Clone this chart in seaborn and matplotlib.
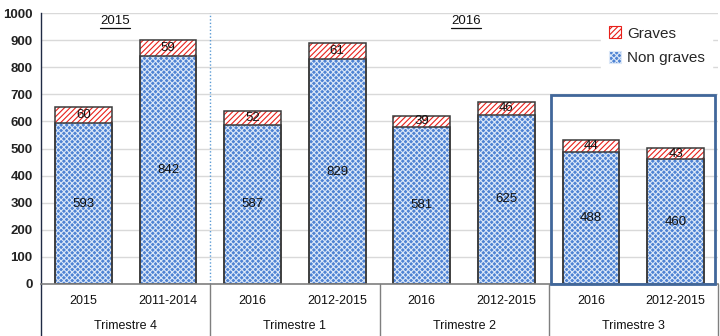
import matplotlib
matplotlib.use("Agg")
import matplotlib.pyplot as plt
import seaborn as sns
import pandas as pd
import numpy as np
from matplotlib.patches import Patch, Rectangle
from matplotlib.lines import Line2D
import matplotlib.transforms as mtrans

# ---- data ----
groups = ["Trimestre 4", "Trimestre 1", "Trimestre 2", "Trimestre 3"]
sublabels = ["2015", "2011-2014", "2016", "2012-2015", "2016", "2012-2015", "2016", "2012-2015"]
non_graves = [593, 842, 587, 829, 581, 625, 488, 460]
graves = [60, 59, 52, 61, 39, 46, 44, 43]
year_labels = ["2015", "2016"]

sns.set_theme(style="white")
plt.rcParams["font.family"] = ["Liberation Sans", "DejaVu Sans"]
plt.rcParams["hatch.linewidth"] = 0.8

keys = [f"k{i}" for i in range(len(sublabels))]
df = pd.DataFrame({"key": keys, "non": non_graves, "gr": graves})
df["total"] = df["non"] + df["gr"]

fig = plt.figure(figsize=(7.2, 3.36), dpi=100)
ax = fig.add_axes([41 / 720, 52 / 336, 677 / 720, 271 / 336])

W = 0.67
blue = "#4F83D3"
red = "#E8201A"
edge = "#3A3A3A"

# totals (graves hatch layer)
sns.barplot(data=df, x="key", y="total", order=keys, color="white", width=W,
            ax=ax, saturation=1)
n0 = len(ax.patches)
for p in ax.patches[:n0]:
    p.set_hatch("//////")
    p.set_edgecolor(red)
    p.set_linewidth(0)
    p.set_facecolor("white")
# non graves layer
sns.barplot(data=df, x="key", y="non", order=keys, color=blue, width=W,
            ax=ax, saturation=1)
n1 = len(ax.patches)
for p in ax.patches[n0:n1]:
    p.set_hatch("xxxxxx")
    p.set_edgecolor("#DCE8F8")
    p.set_linewidth(0)
    p.set_facecolor(blue)
# outlines
sns.barplot(data=df, x="key", y="total", order=keys, fill=False, width=W,
            ax=ax, saturation=1, color=edge, linewidth=1.1)
sns.barplot(data=df, x="key", y="non", order=keys, fill=False, width=W,
            ax=ax, saturation=1, color=edge, linewidth=1.1)
for p in ax.patches[n1:]:
    p.set_edgecolor(edge)
    p.set_facecolor("none")

ax.set_xlim(-0.5, 7.5)
ax.set_ylim(0, 1000)
ax.set_yticks(range(0, 1001, 100))
ax.yaxis.grid(True, color="#D9D9D9", linewidth=1)
ax.set_axisbelow(True)
ax.set_xlabel("")
ax.set_ylabel("")
ax.tick_params(axis="y", length=0, pad=6, labelsize=9.5)
for lab in ax.get_yticklabels():
    lab.set_fontweight("bold")
    lab.set_color("#222222")
ax.set_xticks(range(len(sublabels)))
ax.set_xticklabels(sublabels, fontsize=9, color="#111111")
ax.tick_params(axis="x", length=0, pad=8)
for s in ["top", "right"]:
    ax.spines[s].set_visible(False)
ax.spines["left"].set_color("#1F2A44")
ax.spines["left"].set_linewidth(1)
ax.spines["bottom"].set_color("#7F7F7F")
ax.spines["bottom"].set_linewidth(1.2)

# value labels
for i in range(len(keys)):
    ax.text(i, non_graves[i] / 2, str(non_graves[i]), ha="center", va="center",
            fontsize=9.5, color="#111111")
    ax.text(i, non_graves[i] + graves[i] / 2, str(graves[i]), ha="center",
            va="center", fontsize=9.5, color="#111111")

# dotted separator between 2015 and 2016
ax.axvline(1.5, color="#5B9BD5", linestyle=(0, (1, 1.5)), linewidth=1)

# group separators below the axis
trans = mtrans.blended_transform_factory(ax.transData, ax.transAxes)
bottom_ax = -52 / 271
for xb in [-0.5, 1.5, 3.5, 5.5, 7.5]:
    col = "#1F2A44" if xb == -0.5 else "#7F7F7F"
    ax.add_line(Line2D([xb, xb], [0, bottom_ax], transform=trans, color=col,
                       linewidth=1, clip_on=False))
for gi, g in enumerate(groups):
    ax.text(gi * 2 + 0.5, -42 / 271, g, transform=trans, ha="center",
            va="center", fontsize=9, color="#111111")

# highlight rectangle around Trimestre 3
ax.add_patch(Rectangle((5.53, 0), 1.94, 697, fill=False, edgecolor="#41679A",
                       linewidth=2, clip_on=False, zorder=5))

# year labels (underlined)
ytxt = []
for xpos, lab in zip([0.375, 4.52], year_labels):
    t = ax.text(xpos, 972, lab, ha="center", va="center", fontsize=9.5,
                color="#111111")
    ytxt.append(t)

# legend
handles = [Patch(facecolor="white", edgecolor=red, hatch="//////", linewidth=0),
           Patch(facecolor=blue, edgecolor="#DCE8F8", hatch="xxxxxx", linewidth=0)]
leg = ax.legend(handles, ["Graves", "Non graves"], loc="upper right",
                bbox_to_anchor=(1.003, 1.007), frameon=True, fontsize=11,
                handlelength=0.8, handleheight=0.8, handletextpad=0.4,
                labelspacing=0.7, borderpad=0.5)
leg.get_frame().set_edgecolor("white")
leg.get_frame().set_facecolor("white")
leg.get_frame().set_alpha(1)
for h in leg.legend_handles:
    h.set_linewidth(0.8)

fig.canvas.draw()
r = fig.canvas.get_renderer()
for t in ytxt:
    bb = t.get_window_extent(r)
    fig.add_artist(Line2D([bb.x0 / 720, bb.x1 / 720],
                          [(bb.y0 - 1) / 336, (bb.y0 - 1) / 336],
                          transform=fig.transFigure, color="#111111",
                          linewidth=0.9))

fig.savefig("out.png", dpi=100)
